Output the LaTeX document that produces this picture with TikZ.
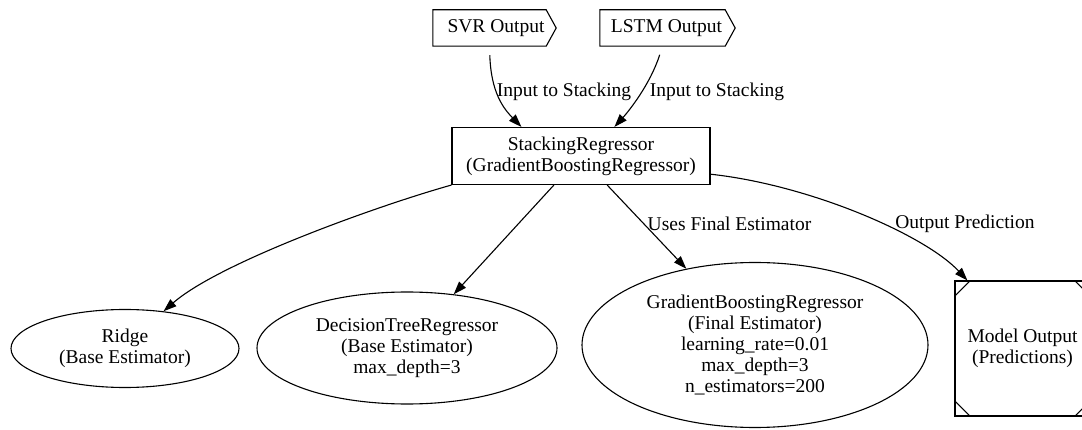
\documentclass[tikz,border=0pt]{standalone}
\usepackage{fontspec}
\setmainfont{Liberation Serif}
\usetikzlibrary{shapes.geometric,arrows.meta,calc}
\begin{document}
\begin{tikzpicture}[x=1pt,y=-1pt,
  every node/.style={font=\fontsize{19.5}{21}\selectfont, inner sep=0pt},
  multi/.style={align=center},
  outline/.style={line width=1.1pt},
  boxnode/.style={draw, line width=1.1pt, rectangle, align=center},
  ell/.style={draw, ellipse, line width=1.1pt, align=center},
  conn/.style={line width=1.1pt, -{Triangle[length=13pt,width=9pt]}},
  lbl/.style={}]
\clip (0,0) rectangle (1082,430);

% input nodes (cds shape)
\node[minimum width=113pt, minimum height=36pt] (svr) at (489.5,28) {\hspace*{13pt}SVR Output};
\draw[outline] (svr.north west) -- (svr.north east) -- ($(svr.east)+(10,0)$) -- (svr.south east) -- (svr.south west) -- cycle;
\node[minimum width=125pt, minimum height=36pt] (lstm) at (662.5,28) {\hspace*{8pt}LSTM Output};
\draw[outline] (lstm.north west) -- (lstm.north east) -- ($(lstm.east)+(10,0)$) -- (lstm.south east) -- (lstm.south west) -- cycle;

% stacking regressor
\node[boxnode, minimum width=258pt, minimum height=57pt] (stack) at (581,156) {StackingRegressor\\(GradientBoostingRegressor)};

% estimators
\node[ell, minimum width=228pt, minimum height=78pt] (ridge) at (125,348.5) {Ridge\\(Base Estimator)};
\node[ell, minimum width=300pt, minimum height=112pt] (dt) at (407,348) {DecisionTreeRegressor\\(Base Estimator)\\max\_depth=3};
\node[ell, minimum width=346pt, minimum height=165pt] (gbr) at (755,345) {GradientBoostingRegressor\\(Final Estimator)\\learning\_rate=0.01\\max\_depth=3\\n\_estimators=200};

% model output (Msquare)
\node[boxnode, minimum width=135pt, minimum height=135pt] (mo) at (1022.5,348.5) {Model Output\\(Predictions)};
\draw[outline] ($(mo.north west)+(0,16)$) -- ($(mo.north west)+(16,0)$);
\draw[outline] ($(mo.north east)+(0,16)$) -- ($(mo.north east)+(-16,0)$);
\draw[outline] ($(mo.south west)+(0,-16)$) -- ($(mo.south west)+(16,0)$);
\draw[outline] ($(mo.south east)+(0,-16)$) -- ($(mo.south east)+(-16,0)$);

% labels
\node[lbl] (l1) at (564,92) {Input to Stacking};
\node[lbl] (l2) at (717,92) {Input to Stacking};
\node[lbl] (l3) at (729.5,224) {Uses Final Estimator};
\node[lbl] (l4) at (965,224) {Output Prediction};

% connectors
\draw[conn, shorten <=9pt] (svr.south) .. controls (491,92) and (503,108) .. (stack.154);
\draw[conn, shorten <=9pt] (lstm.south) .. controls (650,85) and (628,112) .. (stack.41);
\draw[conn] (stack.south west) .. controls (380,205) and (220,262) .. (ridge.44);
\draw[conn] (stack.227.6) -- (dt.49);
\draw[conn] (stack.312.4) -- (gbr.132.9);
\draw[conn] (stack.352) .. controls (810,185) and (925,235) .. (mo.129.4);
\end{tikzpicture}
\end{document}
